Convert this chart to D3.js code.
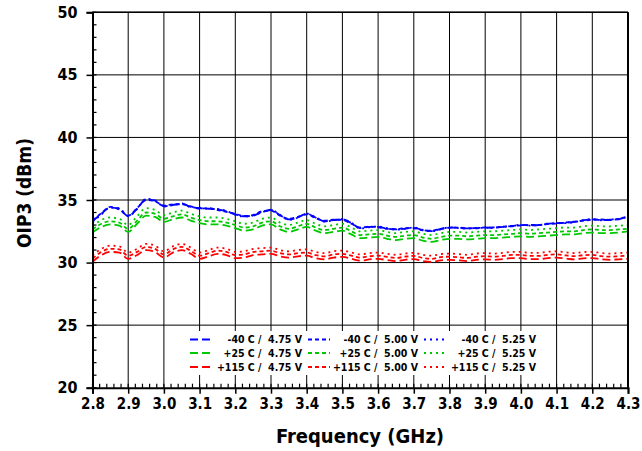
<!DOCTYPE html>
<html>
<head>
<meta charset="utf-8">
<script src="https://cdn.jsdelivr.net/npm/d3@7"></script>
<style>
  body { margin: 0; background: #fff; }
  svg { display: block; font-family: "DejaVu Sans", Verdana, sans-serif; font-weight: bold; }
  .cond, .tick text, .legend text { font-stretch: condensed; }
</style>
</head>
<body>
<svg id="chart" width="642" height="451"></svg>
<script>
// frequency points (GHz)
var freq = [2.800, 2.825, 2.850, 2.875, 2.900, 2.925, 2.950, 2.975, 3.000, 3.025,
            3.050, 3.075, 3.100, 3.125, 3.150, 3.175, 3.200, 3.225, 3.250, 3.275,
            3.300, 3.325, 3.350, 3.375, 3.400, 3.425, 3.450, 3.475, 3.500, 3.525,
            3.550, 3.575, 3.600, 3.625, 3.650, 3.675, 3.700, 3.725, 3.750, 3.775,
            3.800, 3.825, 3.850, 3.875, 3.900, 3.925, 3.950, 3.975, 4.000, 4.025,
            4.050, 4.075, 4.100, 4.125, 4.150, 4.175, 4.200, 4.225, 4.250, 4.275, 4.300];

// OIP3 (dBm)
var m40_475 = [33.3, 33.9, 34.4, 34.3, 33.7, 34.3, 35.05, 34.95, 34.5, 34.6,
               34.7, 34.45, 34.35, 34.3, 34.25, 34.1, 33.85, 33.7, 33.75, 34.05,
               34.2, 33.8, 33.45, 33.6, 33.9, 33.6, 33.3, 33.4, 33.45, 33.15,
               32.75, 32.85, 32.85, 32.72, 32.65, 32.72, 32.78, 32.6, 32.52, 32.68,
               32.8, 32.78, 32.73, 32.76, 32.8, 32.8, 32.85, 32.92, 33.0, 32.98,
               33.0, 33.1, 33.15, 33.18, 33.25, 33.38, 33.45, 33.4, 33.42, 33.48, 33.7];
var m40_500 = [33.35, 33.95, 34.45, 34.25, 33.75, 34.35, 35.0, 34.9, 34.55, 34.65,
               34.65, 34.5, 34.3, 34.35, 34.2, 34.05, 33.9, 33.72, 33.8, 34.1,
               34.15, 33.75, 33.5, 33.65, 33.85, 33.55, 33.35, 33.42, 33.4, 33.1,
               32.8, 32.88, 32.82, 32.7, 32.68, 32.75, 32.74, 32.58, 32.55, 32.7,
               32.78, 32.8, 32.75, 32.74, 32.82, 32.78, 32.88, 32.9, 32.98, 33.0,
               33.02, 33.08, 33.12, 33.2, 33.28, 33.35, 33.42, 33.44, 33.4, 33.5, 33.68];
var m40_525 = [33.25, 33.85, 34.4, 34.35, 33.72, 34.28, 35.1, 34.98, 34.48, 34.58,
               34.72, 34.42, 34.38, 34.28, 34.28, 34.12, 33.82, 33.68, 33.78, 34.02,
               34.22, 33.82, 33.42, 33.58, 33.92, 33.62, 33.28, 33.38, 33.48, 33.18,
               32.72, 32.82, 32.88, 32.75, 32.62, 32.7, 32.8, 32.62, 32.5, 32.66,
               32.82, 32.76, 32.7, 32.78, 32.78, 32.82, 32.84, 32.94, 33.02, 32.96,
               32.98, 33.12, 33.16, 33.16, 33.22, 33.4, 33.48, 33.38, 33.44, 33.46, 33.72];

var p25_475 = [32.4, 32.85, 33.05, 32.95, 32.45, 33.1, 33.75, 33.65, 33.25, 33.45,
               33.6, 33.35, 33.15, 33.05, 33.05, 32.95, 32.75, 32.55, 32.65, 32.95,
               33.05, 32.65, 32.45, 32.65, 32.85, 32.55, 32.35, 32.45, 32.55, 32.25,
               31.95, 32.0, 32.05, 31.9, 31.8, 31.9, 31.95, 31.75, 31.65, 31.8,
               31.9, 31.9, 31.85, 31.9, 31.95, 31.95, 32.0, 32.05, 32.1, 32.05,
               32.1, 32.15, 32.2, 32.25, 32.25, 32.35, 32.4, 32.35, 32.35, 32.4, 32.5];
var p25_500 = [32.65, 33.1, 33.3, 33.2, 32.7, 33.35, 34.0, 33.9, 33.5, 33.7,
               33.85, 33.6, 33.4, 33.3, 33.3, 33.2, 33.0, 32.8, 32.9, 33.2,
               33.3, 32.9, 32.7, 32.9, 33.1, 32.8, 32.6, 32.7, 32.8, 32.5,
               32.2, 32.25, 32.3, 32.15, 32.05, 32.15, 32.2, 32.0, 31.9, 32.05,
               32.15, 32.15, 32.1, 32.15, 32.2, 32.2, 32.25, 32.3, 32.35, 32.3,
               32.35, 32.4, 32.45, 32.5, 32.5, 32.6, 32.65, 32.6, 32.6, 32.65, 32.7];
var p25_525 = [32.9, 33.4, 33.6, 33.5, 33.0, 33.7, 34.35, 34.2, 33.8, 34.0,
               34.15, 33.9, 33.7, 33.6, 33.6, 33.5, 33.3, 33.1, 33.2, 33.5,
               33.6, 33.2, 33.0, 33.2, 33.4, 33.1, 32.9, 33.0, 33.1, 32.8,
               32.5, 32.55, 32.6, 32.45, 32.35, 32.45, 32.5, 32.3, 32.2, 32.35,
               32.45, 32.45, 32.4, 32.45, 32.5, 32.5, 32.55, 32.6, 32.65, 32.6,
               32.65, 32.7, 32.75, 32.8, 32.8, 32.9, 32.95, 32.9, 32.9, 32.95, 33.0];

var p115_475 = [30.05, 30.6, 30.85, 30.8, 30.3, 30.6, 31.0, 30.85, 30.4, 30.8,
                31.0, 30.7, 30.3, 30.5, 30.7, 30.6, 30.35, 30.4, 30.6, 30.65,
                30.7, 30.5, 30.4, 30.5, 30.55, 30.35, 30.25, 30.4, 30.45, 30.3,
                30.15, 30.25, 30.3, 30.2, 30.12, 30.22, 30.28, 30.12, 30.05, 30.18,
                30.22, 30.18, 30.12, 30.22, 30.26, 30.22, 30.28, 30.36, 30.36, 30.28,
                30.28, 30.36, 30.4, 30.32, 30.26, 30.34, 30.36, 30.26, 30.22, 30.26, 30.3];
var p115_500 = [30.3, 30.85, 31.1, 31.05, 30.55, 30.85, 31.25, 31.1, 30.65, 31.05,
                31.25, 30.95, 30.55, 30.75, 30.95, 30.85, 30.6, 30.65, 30.85, 30.9,
                30.95, 30.75, 30.65, 30.75, 30.8, 30.6, 30.5, 30.65, 30.7, 30.55,
                30.4, 30.5, 30.55, 30.45, 30.37, 30.47, 30.53, 30.37, 30.3, 30.43,
                30.47, 30.43, 30.37, 30.47, 30.51, 30.47, 30.53, 30.61, 30.61, 30.53,
                30.53, 30.61, 30.65, 30.57, 30.51, 30.59, 30.61, 30.51, 30.47, 30.51, 30.55];
var p115_525 = [30.55, 31.1, 31.35, 31.3, 30.8, 31.1, 31.5, 31.35, 30.9, 31.3,
                31.5, 31.2, 30.8, 31.0, 31.2, 31.1, 30.85, 30.9, 31.1, 31.15,
                31.2, 31.0, 30.9, 31.0, 31.05, 30.85, 30.75, 30.9, 30.95, 30.8,
                30.65, 30.75, 30.8, 30.7, 30.62, 30.72, 30.78, 30.62, 30.55, 30.68,
                30.72, 30.68, 30.62, 30.72, 30.76, 30.72, 30.78, 30.86, 30.86, 30.78,
                30.78, 30.86, 30.9, 30.82, 30.76, 30.84, 30.86, 30.76, 30.72, 30.76, 30.8];

var seriesNames = ["-40 C /  4.75 V", "-40 C /  5.00 V", "-40 C /  5.25 V",
                   "+25 C /  4.75 V", "+25 C /  5.00 V", "+25 C /  5.25 V",
                   "+115 C /  4.75 V", "+115 C /  5.00 V", "+115 C /  5.25 V"];
var seriesValues = [m40_475, m40_500, m40_525, p25_475, p25_500, p25_525, p115_475, p115_500, p115_525];

var xTicks = [2.8, 2.9, 3.0, 3.1, 3.2, 3.3, 3.4, 3.5, 3.6, 3.7, 3.8, 3.9, 4.0, 4.1, 4.2, 4.3];
var yTicks = [20, 25, 30, 35, 40, 45, 50];

var colors = ["#0000ff", "#00c800", "#ff0000"];
var dashes = ["8,4", "4,3", "2,4"];

(function () {
    var svg = d3.select("#chart");
    var pl = 92.5, pr = 628, pt = 12.3, pb = 387.7;

    var x = d3.scaleLinear().domain([2.8, 4.3]).range([pl, pr]);
    var y = d3.scaleLinear().domain([20, 50]).range([pb, pt]);

    // grid
    var grid = svg.append("g").attr("class", "grid");
    grid.selectAll("line.v")
        .data(xTicks.slice(1))
        .enter().append("line")
        .attr("x1", function (d) { return x(d); })
        .attr("x2", function (d) { return x(d); })
        .attr("y1", pt).attr("y2", pb)
        .attr("stroke", "#000").attr("stroke-width", 1);
    grid.selectAll("line.h")
        .data(yTicks.slice(1))
        .enter().append("line")
        .attr("y1", function (d) { return y(d); })
        .attr("y2", function (d) { return y(d); })
        .attr("x1", pl).attr("x2", pr)
        .attr("stroke", "#000").attr("stroke-width", 1);

    svg.append("clipPath").attr("id", "plotclip")
        .append("rect").attr("x", pl).attr("y", pt)
        .attr("width", pr - pl).attr("height", pb - pt);

    var line = d3.line()
        .x(function (d, i) { return x(freq[i]); })
        .y(function (d) { return y(d); })
        .curve(d3.curveMonotoneX);

    var lines = svg.append("g").attr("clip-path", "url(#plotclip)");
    seriesValues.forEach(function (vals, i) {
        lines.append("path")
            .datum(vals)
            .attr("d", line)
            .attr("fill", "none")
            .attr("stroke", colors[Math.floor(i / 3)])
            .attr("stroke-width", 1.8)
            .attr("stroke-dasharray", dashes[i % 3]);
    });

    // legend
    var lg = svg.append("g").attr("class", "legend");
    lg.append("rect")
        .attr("x", 183).attr("y", 331)
        .attr("width", 362).attr("height", 44)
        .attr("fill", "#fff");
    var colSym = [190, 308, 424];
    var colTxt = [302, 418, 536];
    var rowY = [339.5, 353, 367];
    seriesNames.forEach(function (name, i) {
        var row = Math.floor(i / 3), col = i % 3;
        lg.append("line")
            .attr("x1", colSym[col]).attr("x2", colSym[col] + 22)
            .attr("y1", rowY[row]).attr("y2", rowY[row])
            .attr("stroke", colors[row])
            .attr("stroke-width", 2)
            .attr("stroke-dasharray", dashes[col]);
        lg.append("text")
            .attr("x", colTxt[col]).attr("y", rowY[row])
            .attr("dy", "0.35em")
            .attr("text-anchor", "end")
            .attr("font-size", "10.5px")
            .attr("fill", "#000")
            .style("white-space", "pre")
            .text(name);
    });

    // axes
    var xAxis = d3.axisBottom(x).tickValues(xTicks).tickSize(6)
        .tickFormat(d3.format(".1f"));
    var gx = svg.append("g").attr("transform", "translate(0," + pb + ")").call(xAxis);
    gx.attr("font-family", null).attr("font-size", null);
    gx.select(".domain").attr("stroke-width", 2);
    gx.selectAll(".tick line").attr("stroke-width", 1.5);
    gx.selectAll(".tick text").attr("font-size", "15px")
        .attr("y", 11).attr("dy", "0.71em").attr("fill", "#000");

    var yAxis = d3.axisLeft(y).tickValues(yTicks).tickSize(6);
    var gy = svg.append("g").attr("transform", "translate(" + pl + ",0)").call(yAxis);
    gy.attr("font-family", null).attr("font-size", null);
    gy.select(".domain").attr("stroke-width", 2);
    gy.selectAll(".tick line").attr("stroke-width", 1.5);
    gy.selectAll(".tick text").attr("font-size", "16px")
        .attr("x", -15).attr("fill", "#000");

    // minor ticks
    var xMinor = d3.range(2.8, 4.3001, 0.02);
    svg.append("g").selectAll("line")
        .data(xMinor).enter().append("line")
        .attr("x1", function (d) { return x(d); })
        .attr("x2", function (d) { return x(d); })
        .attr("y1", pb).attr("y2", pb - 4)
        .attr("stroke", "#000").attr("stroke-width", 1.2);
    var yMinor = d3.range(20, 50.001, 1);
    svg.append("g").selectAll("line")
        .data(yMinor).enter().append("line")
        .attr("y1", function (d) { return y(d); })
        .attr("y2", function (d) { return y(d); })
        .attr("x1", pl).attr("x2", pl + 4)
        .attr("stroke", "#000").attr("stroke-width", 1.2);

    // frame top and right
    svg.append("line").attr("x1", pl).attr("x2", pr).attr("y1", pt).attr("y2", pt)
        .attr("stroke", "#000").attr("stroke-width", 1.5);
    svg.append("line").attr("x1", pr).attr("x2", pr).attr("y1", pt).attr("y2", pb)
        .attr("stroke", "#000").attr("stroke-width", 2);

    // titles
    svg.append("text")
        .attr("class", "cond")
        .attr("x", 360).attr("y", 443)
        .attr("text-anchor", "middle")
        .attr("font-size", "20px")
        .text("Frequency (GHz)");
    svg.append("text")
        .attr("class", "cond")
        .attr("transform", "translate(31,193) rotate(-90)")
        .attr("text-anchor", "middle")
        .attr("font-size", "19px")
        .text("OIP3 (dBm)");
})();
</script>
</body>
</html>
